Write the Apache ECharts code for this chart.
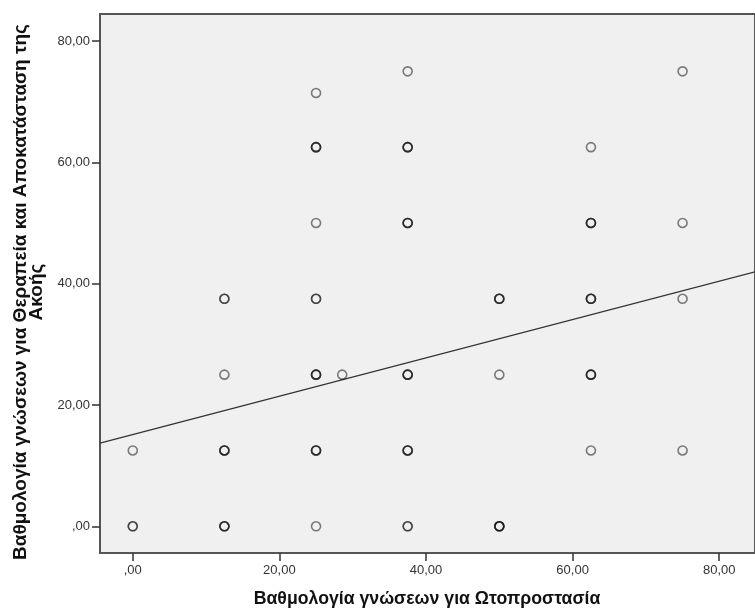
<!DOCTYPE html>
<html>
<head>
<meta charset="utf-8">
<script src="https://cdn.jsdelivr.net/npm/echarts@6/dist/echarts.min.js"></script>
<style>
    html, body { margin: 0; padding: 0; background: #fff; }
    #chart { width: 755px; height: 610px; }
</style>
</head>
<body>
<div id="chart"></div>
<script>
// x / y score of each plotted circle, and how many cases sit on it (darker ring = more)
var xScores = [0, 0, 12.5, 12.5, 12.5, 12.5, 25, 25, 25, 25, 25, 25, 25, 28.57,
    37.5, 37.5, 37.5, 37.5, 37.5, 37.5, 50, 50, 50, 62.5, 62.5, 62.5, 62.5, 62.5,
    75, 75, 75, 75];
var yScores = [12.5, 0, 37.5, 25, 12.5, 0, 71.43, 62.5, 50, 37.5, 25, 12.5, 0, 25,
    75, 62.5, 50, 25, 12.5, 0, 37.5, 25, 0, 62.5, 50, 37.5, 25, 12.5,
    75, 50, 37.5, 12.5];
var caseCounts = [1, 2, 2, 1, 3, 3, 1, 3, 1, 2, 3, 3, 1, 1,
    1, 3, 3, 3, 3, 2, 3, 1, 4, 1, 3, 3, 3, 1,
    1, 1, 1, 1];
var tickValues = [0, 20, 40, 60, 80];
// fit line
var fitIntercept = 15.12;
var fitSlope = 0.316;

var xMin = -4.47, xMax = 84.88;
var yMin = -4.4, yMax = 84.45;

var points = [];
for (var i = 0; i < xScores.length; i++) {
    for (var k = 0; k < caseCounts[i]; k++) {
        points.push([xScores[i], yScores[i]]);
    }
}
var fitLine = [
    [xMin, fitIntercept + fitSlope * xMin],
    [xMax, fitIntercept + fitSlope * xMax]
];

function fmtTick(v) {
    var s = v.toFixed(2).replace('.', ',');
    if (v === 0) s = ',00';
    return s;
}

var myChart = echarts.init(document.getElementById('chart'));
var option = {
    backgroundColor: '#ffffff',
    animation: false,
    textStyle: { fontFamily: 'Liberation Sans, Arial, sans-serif' },
    grid: {
        left: 100, right: -4, top: 14, bottom: 57,
        show: true,
        backgroundColor: '#f0f0f0',
        borderColor: '#555555',
        borderWidth: 2
    },
    xAxis: {
        type: 'value', min: xMin, max: xMax,
        splitLine: { show: false },
        axisLine: { show: false, onZero: false },
        axisTick: { show: true, length: 8, customValues: tickValues,
            lineStyle: { color: '#333', width: 1.5 } },
        axisLabel: { customValues: tickValues, formatter: fmtTick, margin: 11,
            color: '#333', fontSize: 13 }
    },
    yAxis: {
        type: 'value', min: yMin, max: yMax,
        splitLine: { show: false },
        axisLine: { show: false, onZero: false },
        axisTick: { show: true, length: 8, customValues: tickValues,
            lineStyle: { color: '#333', width: 1.5 } },
        axisLabel: { customValues: tickValues, formatter: fmtTick, margin: 10,
            color: '#333', fontSize: 13 }
    },
    graphic: [
        {
            type: 'text', x: 29, y: 292, rotation: Math.PI / 2,
            style: {
                text: 'Βαθμολογία γνώσεων για Θεραπεία και Αποκατάσταση της\nΑκοής',
                font: 'bold 19px "Liberation Sans", Arial, sans-serif',
                fill: '#111', align: 'center', verticalAlign: 'middle', lineHeight: 16
            }
        },
        {
            type: 'text', x: 427, y: 599,
            style: {
                text: 'Βαθμολογία γνώσεων για Ωτοπροστασία',
                font: 'bold 17.7px "Liberation Sans", Arial, sans-serif',
                fill: '#111', align: 'center', verticalAlign: 'middle'
            }
        }
    ],
    series: [
        {
            type: 'line',
            data: fitLine,
            symbol: 'none',
            silent: true,
            lineStyle: { color: '#333', width: 1.3 },
            z: 1
        },
        {
            type: 'scatter',
            data: points,
            symbol: 'circle',
            symbolSize: 9,
            itemStyle: {
                color: 'rgba(0,0,0,0)',
                borderColor: 'rgba(20,20,20,0.68)',
                borderWidth: 1.6
            },
            z: 2
        }
    ]
};
myChart.setOption(option);
</script>
</body>
</html>
